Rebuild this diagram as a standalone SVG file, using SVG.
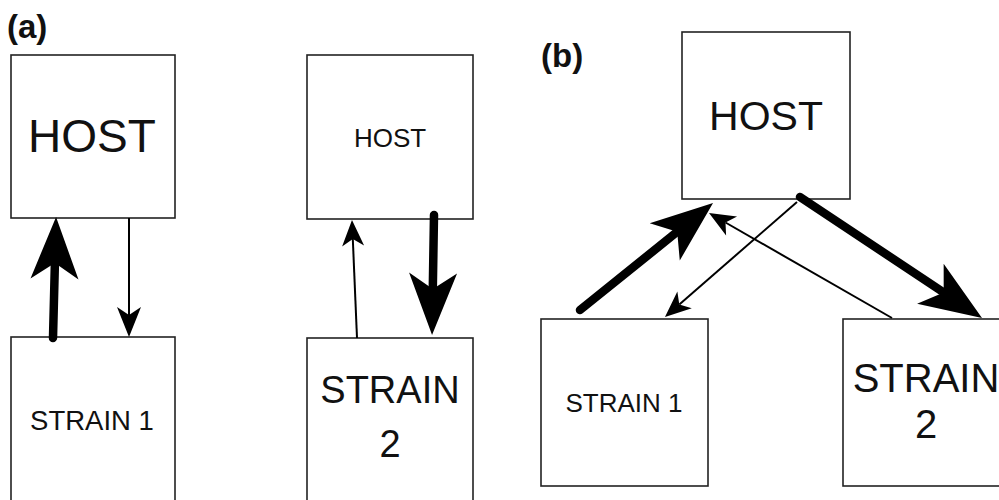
<svg xmlns="http://www.w3.org/2000/svg" width="999" height="500" viewBox="0 0 999 500">
<style>
.box{fill:#fff;stroke:#222;stroke-width:1.6}
.t{font-family:"Liberation Sans",Arial,sans-serif;fill:#111;text-anchor:middle}
.lbl{font-family:"Liberation Sans",Arial,sans-serif;font-weight:bold;fill:#111}
.thick{stroke:#000;stroke-width:8.5;stroke-linecap:round;fill:none;marker-end:url(#bigHead)}
.thin{stroke:#000;stroke-width:2;fill:none;marker-end:url(#smallHead)}
.thin.mid{marker-end:url(#midHead)}
</style>
<defs>
<marker id="bigHead" markerUnits="userSpaceOnUse" viewBox="-20 -26 70 52" markerWidth="70" markerHeight="52" refX="0" refY="0" orient="auto">
<path d="M46,0 L-16,-24 L0,0 L-16,24 Z" fill="#000"/>
</marker>
<marker id="smallHead" markerUnits="userSpaceOnUse" viewBox="-10 -13 32 26" markerWidth="32" markerHeight="26" refX="0" refY="0" orient="auto">
<path d="M19,0 L-7,-11 L0,0 L-7,11 Z" fill="#000"/>
</marker>
<marker id="midHead" markerUnits="userSpaceOnUse" viewBox="-12 -14 38 28" markerWidth="38" markerHeight="28" refX="0" refY="0" orient="auto">
<path d="M22,0 L-8,-12 L0,0 L-8,12 Z" fill="#000"/>
</marker>
</defs>
<rect width="999" height="500" fill="#fff"/>
<text class="lbl" x="7" y="38" font-size="33">(a)</text>
<text class="lbl" x="541" y="67" font-size="33">(b)</text>
<g id="a1-host"><rect class="box" x="11" y="55" width="164" height="163"/><text class="t" x="92" y="152" font-size="46">HOST</text></g>
<g id="a1-strain1"><rect class="box" x="11" y="337" width="164" height="170"/><text class="t" x="92" y="430" font-size="27.5">STRAIN 1</text></g>
<g id="a2-host"><rect class="box" x="307" y="55" width="166" height="164"/><text class="t" x="390" y="147" font-size="26">HOST</text></g>
<g id="a2-strain2"><rect class="box" x="307" y="338" width="166" height="170"/><text class="t" x="390" y="403" font-size="38">STRAIN</text><text class="t" x="390" y="457" font-size="38">2</text></g>
<g id="b-host"><rect class="box" x="682" y="32" width="168" height="167"/><text class="t" x="766" y="130" font-size="41">HOST</text></g>
<g id="b-strain1"><rect class="box" x="541" y="319" width="167" height="167"/><text class="t" x="624" y="412" font-size="26">STRAIN 1</text></g>
<g id="b-strain2"><rect class="box" x="843" y="319" width="170" height="167"/><text class="t" x="926" y="392" font-size="40">STRAIN</text><text class="t" x="926" y="438" font-size="40">2</text></g>
<g id="connectors">
<line class="thick" x1="53" y1="338" x2="54.9" y2="263"/>
<line class="thin mid" x1="129" y1="218" x2="129" y2="315"/>
<line class="thin" x1="357" y1="338" x2="352.8" y2="239"/>
<line class="thick" x1="434" y1="215" x2="432.8" y2="289"/>
<line class="thick" x1="580" y1="310" x2="677.2" y2="231.8"/>
<line class="thin" x1="797" y1="202" x2="679.3" y2="304.5"/>
<line class="thick" x1="800" y1="197" x2="943.7" y2="292.5"/>
<line class="thin" x1="892" y1="318" x2="725.5" y2="222.5"/>
</g>
</svg>
